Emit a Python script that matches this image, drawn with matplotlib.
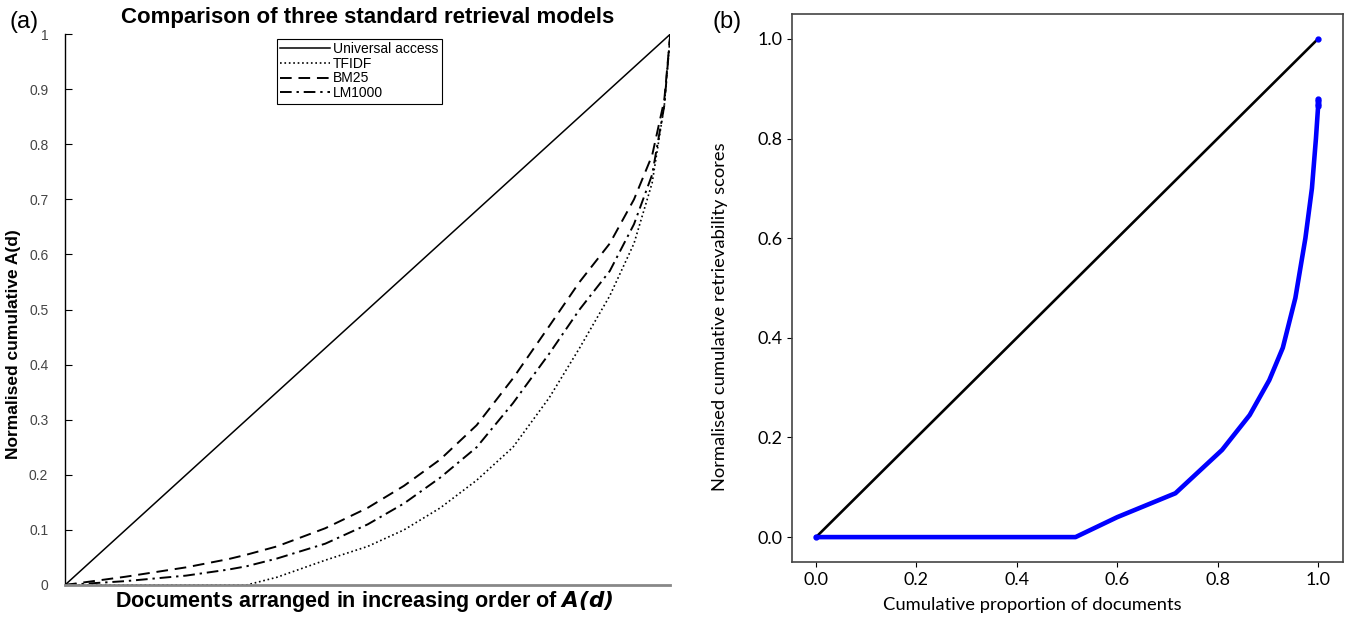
import numpy as np
import matplotlib.pyplot as plt

# ---- panel (a): Lorenz curves of three retrieval models ----
x_a = [0.0, 0.10, 0.20, 0.27, 0.30, 0.35, 0.43, 0.50, 0.56, 0.62, 0.68, 0.74,
       0.80, 0.85, 0.90, 0.94, 0.97, 0.99, 1.0]
bm25 = [0.0, 0.015, 0.032, 0.047, 0.055, 0.07, 0.103, 0.14, 0.18, 0.228, 0.29,
        0.375, 0.47, 0.55, 0.62, 0.70, 0.78, 0.88, 1.0]
lm1000 = [0.0, 0.007, 0.017, 0.028, 0.034, 0.048, 0.075, 0.11, 0.148, 0.195, 0.25,
          0.33, 0.42, 0.50, 0.57, 0.655, 0.745, 0.87, 1.0]
tfidf = [0.0, 0.0, 0.0, 0.0, 0.0, 0.014, 0.045, 0.07, 0.10, 0.14, 0.19,
         0.25, 0.34, 0.43, 0.525, 0.62, 0.73, 0.87, 1.0]
x_equal = [0.0, 1.0]
y_equal = [0.0, 1.0]

# ---- panel (b): retrievability Lorenz curve ----
x_b = [0.0, 0.517, 0.60, 0.716, 0.809, 0.864, 0.903, 0.93, 0.955, 0.975, 0.988, 0.996, 1.0]
y_b = [0.0, 0.0, 0.04, 0.088, 0.175, 0.245, 0.315, 0.38, 0.48, 0.60, 0.70, 0.80, 0.86]
x_b_dots = [0.0, 1.0, 1.0, 1.0, 1.0, 1.0]
y_b_dots = [0.0, 0.865, 0.87, 0.875, 0.88, 1.0]

fig = plt.figure(figsize=(13.46, 6.21), dpi=100)

# panel (a)
ax1 = fig.add_axes([0.0483, 0.058, 0.4497, 0.887])
ax1.plot(x_equal, y_equal, '-', color='black', lw=1.1, label='Universal access')
ax1.plot(x_a, tfidf, ':', color='black', lw=1.2, label='TFIDF')
ax1.plot(x_a, bm25, '--', color='black', lw=1.4, dashes=(6, 3.5), label='BM25')
ax1.plot(x_a, lm1000, '-.', color='black', lw=1.4, dashes=(6, 2.5, 1.2, 2.5), label='LM1000')
ax1.set_xlim(0, 1)
ax1.set_ylim(0, 1)
ax1.set_yticks(np.arange(0, 1.01, 0.1))
ax1.set_yticklabels(['0'] + ['%.1f' % v for v in np.arange(0.1, 0.95, 0.1)] + ['1'])
ax1.set_xticks([])
ax1.tick_params(axis='y', direction='in', length=5, labelsize=10, labelcolor='#444444',
                pad=12)
for lab in ax1.get_yticklabels():
    lab.set_family('Liberation Sans')
for s in ['top', 'right']:
    ax1.spines[s].set_visible(False)
ax1.spines['bottom'].set_color('#888888')
ax1.spines['bottom'].set_linewidth(2)
ax1.spines['left'].set_linewidth(1)
ax1.set_title('Comparison of three standard retrieval models', fontsize=16,
              fontweight='bold', family='Liberation Sans', pad=8)
ax1.set_xlabel(r'Documents arranged in increasing order of $\mathbfit{A(d)}$',
               fontsize=15.5, fontweight='bold', family='Liberation Sans')
ax1.xaxis.set_label_coords(0.494, -0.008)
ax1.set_ylabel('Normalised cumulative A(d)', fontsize=12.5, fontweight='bold',
               family='Liberation Sans')
ax1.yaxis.set_label_coords(-0.073, 0.438)
leg = ax1.legend(loc='upper left', bbox_to_anchor=(0.35, 0.992),
                 prop={'family': 'Liberation Sans', 'size': 10},
                 fancybox=False, edgecolor='black', framealpha=1,
                 handlelength=3.6, borderpad=0.25, labelspacing=0.05,
                 handletextpad=0.2, borderaxespad=0)
leg.get_frame().set_linewidth(0.8)

# panel (b)
ax2 = fig.add_axes([0.5884, 0.095, 0.4094, 0.8824])
ax2.plot(x_equal, y_equal, '-', color='black', lw=1.9)
ax2.plot(x_b, y_b, '-', color='blue', lw=3.3, solid_capstyle='round')
ax2.plot(x_b_dots, y_b_dots, 'o', color='blue', markersize=3.5)
ax2.set_xlim(-0.048, 1.05)
ax2.set_ylim(-0.05, 1.05)
ax2.set_xticks(np.arange(0, 1.01, 0.2))
ax2.set_yticks(np.arange(0, 1.01, 0.2))
ax2.tick_params(labelsize=13)
for lab in ax2.get_xticklabels() + ax2.get_yticklabels():
    lab.set_family('Lato')
for s in ax2.spines.values():
    s.set_color('#444444')
    s.set_linewidth(1.2)
ax2.set_xlabel('Cumulative proportion of documents', fontsize=13.2, family='Lato')
ax2.xaxis.set_label_coords(0.437, -0.064)
ax2.set_ylabel('Normalised cumulative retrievability scores', fontsize=13.2,
               family='Lato')
ax2.yaxis.set_label_coords(-0.117, 0.447)

fig.text(0.007, 0.955, '(a)', fontsize=17, family='Liberation Sans')
fig.text(0.529, 0.955, '(b)', fontsize=17, family='Liberation Sans')

fig.savefig('out.png', dpi=100)
